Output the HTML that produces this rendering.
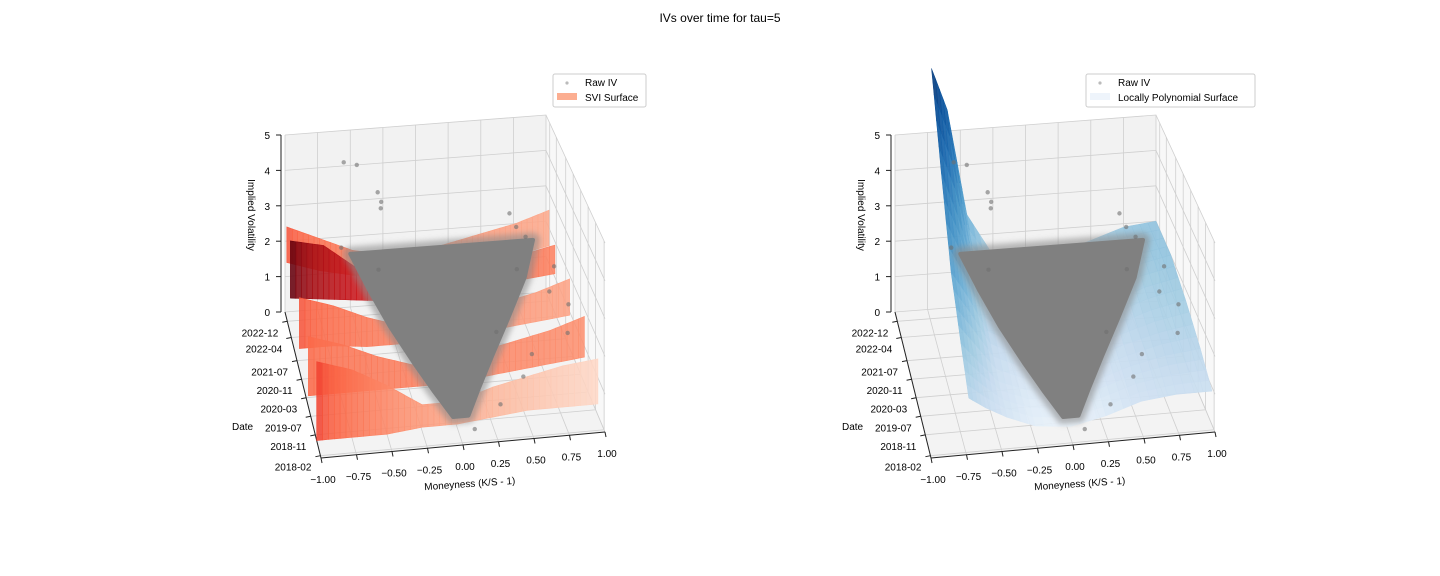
<!DOCTYPE html>
<html><head><meta charset="utf-8"><style>
body{margin:0;background:#fff;}
svg{display:block;font-family:"Liberation Sans",sans-serif;}
</style></head><body>
<svg id="chart" width="1440" height="576" viewBox="0 0 1440 576">
<defs><filter id="blur" x="-20%" y="-20%" width="140%" height="140%"><feGaussianBlur stdDeviation="3"/></filter></defs>
<text x="720" y="22" text-anchor="middle" font-size="12">IVs over time for tau=5</text>
<g id="left"></g>
<g id="right"></g>
</svg>
<script>
// ---- data ----
const xTicks = [-1, -0.75, -0.5, -0.25, 0, 0.25, 0.5, 0.75, 1];
const xTickLabels = ["\u22121.00","\u22120.75","\u22120.50","\u22120.25","0.00","0.25","0.50","0.75","1.00"];
const zTicks = [0, 1, 2, 3, 4, 5];
const dateTickMonths = [1, 10, 18, 26, 34, 42, 52, 59];
const dateTickLabels = ["2018-02","2018-11","2019-07","2020-03","2020-11","2021-07","2022-04","2022-12"];
const dateRangeMonths = 63;
// SVI ribbons (left)
const sviX = [-1, -0.75, -0.5, -0.25, 0, 0.25, 0.5, 0.75, 1];
const sviDates = [0.95, 0.85, 0.6, 0.35, 0.12];
const sviTop = [
  [2.6, 2.2, 1.8, 1.6, 1.6, 1.8, 2.0, 2.2, 2.5],
  [2.6, 2.4, 1.7, 1.2, 1.1, 1.3, 1.5, 1.7, 1.9],
  [2.0, 1.7, 1.3, 1.0, 1.0, 1.2, 1.4, 1.6, 1.9],
  [1.9, 1.6, 1.2, 0.9, 0.9, 1.1, 1.3, 1.5, 1.8],
  [2.1, 1.8, 1.3, 0.7, 0.7, 1.0, 1.2, 1.4, 1.5]
];
const sviBottom = [
  [1.6, 1.3, 1.1, 1.0, 1.0, 1.1, 1.2, 1.3, 1.5],
  [1.0, 0.9, 0.8, 0.7, 0.6, 0.7, 0.9, 1.0, 1.1],
  [0.6, 0.6, 0.5, 0.5, 0.5, 0.6, 0.7, 0.8, 0.9],
  [0.3, 0.3, 0.3, 0.3, 0.3, 0.4, 0.5, 0.6, 0.7],
  [0.0, 0.0, 0.0, 0.1, 0.1, 0.2, 0.3, 0.3, 0.3]
];
// Local polynomial surface (right)
const lpX = [-0.72, -0.6, -0.45, -0.25, 0, 0.25, 0.5, 0.75, 1.0];
const lpDates = [1.0, 0.75, 0.5, 0.25, 0.05];
const lpIV = [
  [6.8, 5.6, 2.6, 1.4, 1.2, 1.3, 1.6, 1.9, 2.0],
  [4.8, 3.6, 1.8, 1.1, 1.0, 1.1, 1.4, 1.8, 2.0],
  [3.0, 2.3, 1.3, 0.9, 0.8, 0.9, 1.2, 1.5, 1.7],
  [2.0, 1.5, 0.9, 0.6, 0.5, 0.7, 1.0, 1.2, 1.3],
  [1.3, 1.0, 0.7, 0.4, 0.3, 0.5, 0.8, 0.9, 0.9]
];
// Raw IV cloud cross-sections
const cloudDates = [1.0, 0.8, 0.6, 0.4, 0.25, 0.12];
const cloudXmin = [-0.5, -0.42, -0.33, -0.22, -0.12, -0.03];
const cloudXmax = [0.9, 0.75, 0.55, 0.35, 0.2, 0.08];
const cloudIV = [1.5, 1.25, 1.0, 0.75, 0.5, 0.3];
// outlier raw points [x, date, iv]
const outX = [-0.55,-0.45,-0.3,-0.28,-0.29,0.72,0.75,0.8,0.95,0.97,0.9,0.6,0.5,-0.6,0.3,0.85,-0.35,0.65,0.4,0.1];
const outT = [1,1,0.97,0.95,0.93,1,0.95,0.9,0.75,0.55,0.4,0.3,0.2,0.9,0.1,0.6,0.8,0.7,0.45,0.05];
const outIV = [4.1,4.0,3.3,3.1,3.0,2.3,2.1,2.0,1.7,1.4,1.2,1.1,0.9,2.1,0.6,1.6,1.8,1.9,1.2,0.2];

// ---- geometry ----
const NS='http://www.w3.org/2000/svg';
const A=[321,458],B=[605,432],C=[285,312],D=[546,292];
function proj(x,t,z,off){
  const u=(x+1)/2;
  const fx=A[0]+(B[0]-A[0])*u, fy=A[1]+(B[1]-A[1])*u;
  const bx=C[0]+(D[0]-C[0])*u, by=C[1]+(D[1]-C[1])*u;
  const sx=fx+(bx-fx)*t, sy=fy+(by-fy)*t;
  const zs=37.8*(1-t)+35.4*t;
  return [sx+off, sy-z*zs];
}
function el(tag,attrs,parent){const e=document.createElementNS(NS,tag);for(const k in attrs)e.setAttribute(k,attrs[k]);parent.appendChild(e);return e;}
function pts(a){return a.map(p=>p[0].toFixed(1)+','+p[1].toFixed(1)).join(' ');}
function lerpColor(stops,v){v=Math.max(0,Math.min(1,v));const n=stops.length-1;const i=Math.min(n-1,Math.floor(v*n));const f=v*n-i;
  const a=stops[i],b=stops[i+1];const h=s=>[1,3,5].map(j=>parseInt(s.substr(j,2),16));const ca=h(a),cb=h(b);
  return 'rgb('+ca.map((c,k)=>Math.round(c+(cb[k]-c)*f)).join(',')+')';}
const REDS=['#fff5f0','#fee0d2','#fcbba1','#fc9272','#fb6a4a','#ef3b2c','#cb181d','#a50f15','#67000d'];
const BLUES=['#f7fbff','#deebf7','#c6dbef','#9ecae1','#6baed6','#4292c6','#2171b5','#08519c','#08306b'];
function interp(xs,ys,x){for(let i=0;i<xs.length-1;i++){if(x<=xs[i+1]){const f=(x-xs[i])/(xs[i+1]-xs[i]);return ys[i]+(ys[i+1]-ys[i])*f;}}return ys[ys.length-1];}

function axes(g,off){
  const o=(x,t,z)=>proj(x,t,z,off);
  let p=el('polygon',{points:pts([o(-1,0,0),o(1,0,0),o(1,1,0),o(-1,1,0)]),fill:'#f3f3f3'},g);
  
  p=el('polygon',{points:pts([o(-1,1,0),o(1,1,0),o(1,1,5),o(-1,1,5)]),fill:'#f2f2f2'},g);
  
  p=el('polygon',{points:pts([o(1,0,0),o(1,1,0),o(1,1,5),o(1,0,5)]),fill:'#f8f8f8'},g);
  
  const gs={stroke:'#cfcfcf','stroke-width':0.8};
  xTicks.forEach(x=>{el('polyline',Object.assign({points:pts([o(x,0,0),o(x,1,0),o(x,1,5)]),fill:'none'},gs),g);});
  zTicks.forEach(z=>{el('polyline',Object.assign({points:pts([o(-1,1,z),o(1,1,z),o(1,0,z)]),fill:'none'},gs),g);});
  dateTickMonths.forEach(m=>{const t=m/dateRangeMonths;el('polyline',Object.assign({points:pts([o(-1,t,0),o(1,t,0),o(1,t,5)]),fill:'none'},gs),g);});
  el('line',{x1:o(-1,0,0)[0],y1:o(-1,0,0)[1],x2:o(1,0,0)[0],y2:o(1,0,0)[1],stroke:'#222','stroke-width':1},g);
  el('line',{x1:o(-1,0,0)[0],y1:o(-1,0,0)[1],x2:o(-1,1,0)[0],y2:o(-1,1,0)[1],stroke:'#222','stroke-width':1},g);
  el('line',{x1:o(-1,1,0)[0]-4,y1:o(-1,1,0)[1],x2:o(-1,1,5)[0]-4,y2:o(-1,1,5)[1],stroke:'#222','stroke-width':1},g);
  xTicks.forEach((x,i)=>{const q=o(x,0,0);
    el('line',{x1:q[0],y1:q[1],x2:q[0]+1,y2:q[1]+5,stroke:'#222'},g);
    const tx=el('text',{x:q[0]+2,y:q[1]+25,'text-anchor':'middle','font-size':10},g);tx.textContent=xTickLabels[i];
    });
  dateTickMonths.forEach((m,i)=>{const q=o(-1,m/dateRangeMonths,0);
    el('line',{x1:q[0],y1:q[1],x2:q[0]-5,y2:q[1]+1,stroke:'#222'},g);
    const tx=el('text',{x:q[0]-9,y:q[1]+15,'text-anchor':'end','font-size':10},g);tx.textContent=dateTickLabels[i];
    });
  zTicks.forEach(z=>{const q=o(-1,1,z);
    el('line',{x1:q[0]-4,y1:q[1],x2:q[0]-9,y2:q[1],stroke:'#222'},g);
    const tx=el('text',{x:q[0]-15,y:q[1]+4,'text-anchor':'end','font-size':10},g);tx.textContent=z;
    });
  let t=el('text',{x:0,y:0,'font-size':10,'text-anchor':'middle',transform:`translate(${off+248},215) rotate(90)`},g);t.textContent='Implied Volatility';
  
  t=el('text',{x:0,y:0,'font-size':10,'text-anchor':'middle',transform:`translate(${off+470},487) rotate(-4)`},g);t.textContent='Moneyness (K/S - 1)';
  
  t=el('text',{x:off+232,y:430,'font-size':10},g);t.textContent='Date';
  
}
function cloud(g,off){
  const o=(x,t,z)=>proj(x,t,z,off);
  const L=cloudDates.map((t,i)=>o(cloudXmin[i],t,cloudIV[i]));
  const R=cloudDates.map((t,i)=>o(cloudXmax[i],t,cloudIV[i])).reverse();
  el('polygon',{points:pts(L.concat(R)),fill:'none',stroke:'#8a8a8a','stroke-width':14,'stroke-linejoin':'round','stroke-opacity':0.6,filter:'url(#blur)'},g);
  const p=el('polygon',{points:pts(L.concat(R)),fill:'#808080',stroke:'#808080','stroke-width':4,'stroke-linejoin':'round'},g);
  
  outX.forEach((x,i)=>{const q=o(x,outT[i],outIV[i]);
    const c=el('circle',{cx:q[0],cy:q[1],r:2.2,fill:'#6f6f6f','fill-opacity':0.6},g);
    });
}
function legend(g,x,y,w,label,patch){
  const r=el('rect',{x:x,y:y,width:w,height:33,fill:'#fff',stroke:'#ccc',rx:2},g);
  
  el('circle',{cx:x+14,cy:y+9,r:1.6,fill:'#bbb'},g);
  let t=el('text',{x:x+32,y:y+12,'font-size':10},g);t.textContent='Raw IV';
  
  el('rect',{x:x+4,y:y+19,width:20,height:7,fill:patch},g);
  t=el('text',{x:x+32,y:y+27,'font-size':10},g);t.textContent=label;
  
}
// LEFT
const gl=document.getElementById('left');
axes(gl,0);
const leftLvl=[0.55,1.0,0.55,0.5,0.6];
const rightLvl=[0.3,0.42,0.32,0.38,0.15];
sviDates.forEach((t,r)=>{
  const N=48;const gg=el('g',{},gl);
  
  for(let i=0;i<N;i++){
    const x0=-1+2*i/N,x1=-1+2*(i+1)/N;
    const a=interp(sviX,sviTop[r],x0),b=interp(sviX,sviTop[r],x1);
    const c=interp(sviX,sviBottom[r],x0),d=interp(sviX,sviBottom[r],x1);
    const f=Math.pow(i/N,0.6);
    const col=lerpColor(REDS,leftLvl[r]+(rightLvl[r]-leftLvl[r])*f);
    el('polygon',{points:pts([proj(x0,t,a,0),proj(x1,t,b,0),proj(x1,t,d,0),proj(x0,t,c,0)]),fill:col,stroke:col,'stroke-width':0.6,'fill-opacity':0.88},gg);
  }
});
cloud(gl,0);
legend(gl,553,74,93,'SVI Surface','#fcae91');
// RIGHT
const gr=document.getElementById('right');
axes(gr,610);
const sub=4;
for(let r=0;r<lpDates.length-1;r++){
  for(let s=0;s<sub;s++){
    const f0=s/sub,f1=(s+1)/sub;
    const t0=lpDates[r]+(lpDates[r+1]-lpDates[r])*f0, t1=lpDates[r]+(lpDates[r+1]-lpDates[r])*f1;
    for(let c=0;c<lpX.length-1;c++){
      for(let q=0;q<sub;q++){
        const g0=q/sub,g1=(q+1)/sub;
        const x0=lpX[c]+(lpX[c+1]-lpX[c])*g0, x1=lpX[c]+(lpX[c+1]-lpX[c])*g1;
        const v=(f,gx)=>{const top=lpIV[r][c]+(lpIV[r][c+1]-lpIV[r][c])*gx;const bot=lpIV[r+1][c]+(lpIV[r+1][c+1]-lpIV[r+1][c])*gx;return top+(bot-top)*f;};
        const z00=v(f0,g0),z01=v(f0,g1),z10=v(f1,g0),z11=v(f1,g1);
        const zm=(z00+z01+z10+z11)/4;
        const col=lerpColor(BLUES,Math.pow(Math.max(0,(zm-0.3)/6.6),0.7)*0.95+0.04);
        const p=el('polygon',{points:pts([proj(x0,t0,z00,610),proj(x1,t0,z01,610),proj(x1,t1,z11,610),proj(x0,t1,z10,610)]),fill:col,stroke:col,'stroke-width':0.5,'fill-opacity':0.92},gr);
        
        
      }
    }
  }
}
cloud(gr,610);
legend(gr,1086,74,169,'Locally Polynomial Surface','#eef4fb');
</script>
</body></html>
